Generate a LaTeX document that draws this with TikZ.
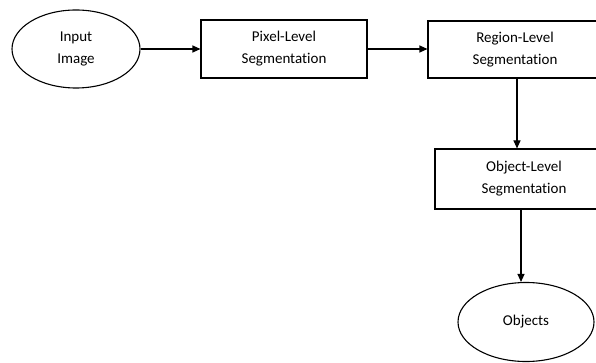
\documentclass[tikz,border=0pt]{standalone}
\usepackage{fontspec}
\setmainfont[Ligatures=NoCommon]{Carlito}
\usetikzlibrary{shapes.geometric,arrows.meta}
\begin{document}
\begin{tikzpicture}[x=1pt,y=-1pt,
  every node/.style={font=\fontsize{15}{22}\selectfont, align=center, draw=black, line width=1.1pt, inner sep=0pt},
  oval/.style={ellipse},
  boxnode/.style={rectangle},
  arr/.style={line width=1.1pt, -{Triangle[length=8pt,width=7pt]}}]
\useasboundingbox (0,0) rectangle (596,363);
\clip (0,0) rectangle (596,363);
\node[oval, minimum width=128, minimum height=78] (in) at (76,49) {Input\\Image};
\node[boxnode, minimum width=166, minimum height=58] (pix) at (284,49) {Pixel-Level\\Segmentation};
\node[boxnode, minimum width=174, minimum height=57] (reg) at (515,49.5) {Region-Level\\Segmentation};
\node[boxnode, minimum width=178, minimum height=60] (obj) at (524,179) {Object-Level\\Segmentation};
\node[oval, minimum width=136, minimum height=79] (out) at (526,322) {Objects};
\coordinate (c1) at (517,0);
\coordinate (c2) at (521,0);
\draw[arr] (in.east) -- (in.east -| pix.west);
\draw[arr] (pix.east) -- (pix.east -| reg.west);
\draw[arr] (reg.south -| c1) -- (obj.north -| c1);
\draw[arr] (obj.south -| c2) -- (out.north -| c2);
\end{tikzpicture}
\end{document}
